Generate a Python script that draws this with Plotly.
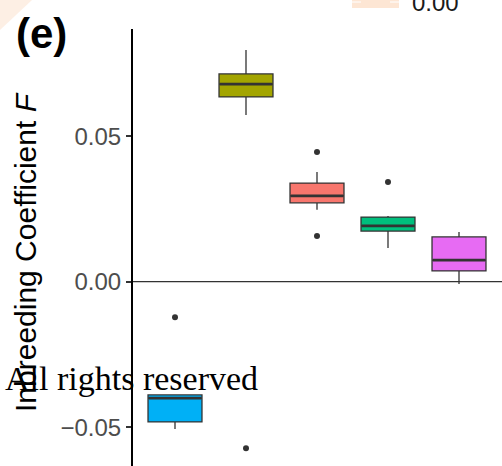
import plotly.graph_objects as go

# ---- data ----
categories = ["G1", "G2", "G3", "G4", "G5"]
colors = ["#00B0F6", "#A3A500", "#F8766D", "#00BF7D", "#E76BF3"]
lower_whisker = [-0.0506, 0.0573, 0.0247, 0.0116, -0.0008]
q1_vals = [-0.0482, 0.0635, 0.0271, 0.0174, 0.0037]
median_vals = [-0.0400, 0.0679, 0.0295, 0.0192, 0.0074]
q3_vals = [-0.0389, 0.0714, 0.0339, 0.0222, 0.0154]
upper_whisker = [-0.0389, 0.0796, 0.0377, 0.0226, 0.0171]
outlier_group = [0, 1, 2, 2, 3]
outlier_vals = [-0.0122, -0.0572, 0.0446, 0.0157, 0.0343]
y_tick_vals = [-0.05, 0.00, 0.05]
y_tick_text = ["\u22120.05", "0.00", "0.05"]
legend_label = "0.00"

BOX_W = 0.76
L, R, T, B = 133, 0, 29, 0
W, H = 502, 466
PW, PH = W - L - R, H - T - B


def px_x(px):
    return (px - L) / PW


def px_y(py):
    return (H - B - py) / PH


fig = go.Figure()

for i, cat in enumerate(categories):
    fig.add_trace(go.Box(
        x=[i], name=cat,
        q1=[q1_vals[i]], median=[median_vals[i]], q3=[q3_vals[i]],
        lowerfence=[lower_whisker[i]], upperfence=[upper_whisker[i]],
        fillcolor=colors[i],
        line=dict(color="#333333", width=1.3),
        whiskerwidth=0, width=BOX_W, boxpoints=False,
        showlegend=False, hoverinfo="skip",
    ))
    # thicker median line, as in ggplot
    fig.add_trace(go.Scatter(
        x=[i - BOX_W / 2 + 0.01, i + BOX_W / 2 - 0.01],
        y=[median_vals[i], median_vals[i]],
        mode="lines", line=dict(color="#333333", width=2.6),
        showlegend=False, hoverinfo="skip",
    ))

fig.add_trace(go.Scatter(
    x=outlier_group, y=outlier_vals, mode="markers",
    marker=dict(color="#333333", size=6),
    showlegend=False, hoverinfo="skip",
))

shapes = [
    dict(type="line", xref="paper", yref="y", x0=0, x1=1, y0=0, y1=0,
         line=dict(color="#333333", width=1.3), layer="below"),
    # fragment of a neighbouring colour bar
    dict(type="rect", xref="paper", yref="paper",
         x0=px_x(352), x1=px_x(399), y0=px_y(8), y1=px_y(-10),
         fillcolor="#FDE6D4", line=dict(width=0)),
    dict(type="line", xref="paper", yref="paper",
         x0=px_x(352), x1=px_x(361), y0=px_y(2), y1=px_y(2),
         line=dict(color="white", width=1)),
    dict(type="line", xref="paper", yref="paper",
         x0=px_x(390), x1=px_x(399), y0=px_y(2), y1=px_y(2),
         line=dict(color="white", width=1)),
    # faint watermark stripe at top-left
    dict(type="path", xref="paper", yref="paper",
         path=f"M {px_x(0)} {px_y(0)} L {px_x(32)} {px_y(0)} L {px_x(0)} {px_y(30)} Z",
         fillcolor="#FDEBDD", line=dict(width=0), opacity=0.8),
]

annotations = [
    dict(text="<b>(e)</b>", xref="paper", yref="paper",
         x=px_x(41), y=px_y(34), xanchor="center", yanchor="middle",
         showarrow=False, font=dict(family="Liberation Sans", size=42, color="black")),
    dict(text="Inbreeding Coefficient <i>F</i>", xref="paper", yref="paper",
         x=px_x(25), y=px_y(252), xanchor="center", yanchor="middle",
         textangle=-90, showarrow=False,
         font=dict(family="Liberation Sans", size=30, color="black")),
    dict(text=legend_label, xref="paper", yref="paper",
         x=px_x(410), y=px_y(2), xanchor="left", yanchor="middle",
         showarrow=False, font=dict(family="Liberation Sans", size=24, color="#1A1A1A")),
    dict(text="All rights reserved", xref="paper", yref="paper",
         x=px_x(131.5), y=px_y(378), xanchor="center", yanchor="middle",
         showarrow=False, font=dict(family="Liberation Serif", size=34, color="black")),
]

fig.update_layout(
    width=W, height=H,
    margin=dict(l=L, r=R, t=T, b=B, pad=0),
    plot_bgcolor="white", paper_bgcolor="white",
    shapes=shapes, annotations=annotations,
    xaxis=dict(range=[(133 - 175) / 71, (502 - 175) / 71], showgrid=False,
               zeroline=False, showticklabels=False, showline=False, ticks=""),
    yaxis=dict(range=[(281.7 - 466) / 2910, (281.7 - 29) / 2910],
               showgrid=False, zeroline=False, showline=True,
               linecolor="black", linewidth=2,
               ticks="outside", ticklen=5, tickwidth=1.5, tickcolor="#333333",
               tickvals=y_tick_vals, ticktext=y_tick_text,
               tickfont=dict(family="Liberation Sans", size=24, color="#4D4D4D")),
)

fig.write_html("out.html")
